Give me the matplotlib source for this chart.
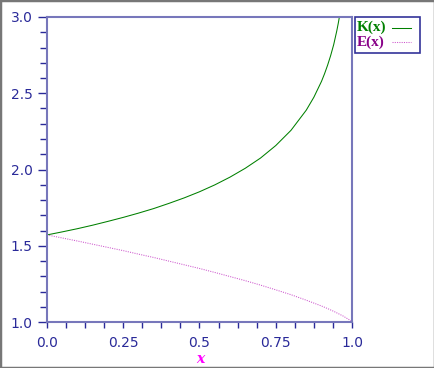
import matplotlib
matplotlib.use("Agg")
import matplotlib.pyplot as plt
from matplotlib.lines import Line2D
from matplotlib.patches import Rectangle

# values
xk = [0.0, 0.05, 0.1, 0.15, 0.2, 0.25, 0.3, 0.35, 0.4, 0.45, 0.5, 0.55, 0.6,
      0.65, 0.7, 0.75, 0.8, 0.85, 0.875, 0.9, 0.91, 0.92, 0.93, 0.94, 0.95,
      0.955, 0.96, 0.965]
K = [1.571, 1.591, 1.612, 1.635, 1.660, 1.686, 1.714, 1.744, 1.778, 1.814,
     1.854, 1.899, 1.950, 2.008, 2.075, 2.157, 2.257, 2.389, 2.474, 2.578,
     2.628, 2.684, 2.747, 2.819, 2.908, 2.959, 3.016, 3.081]
xe = [0.0, 0.05, 0.1, 0.15, 0.2, 0.25, 0.3, 0.35, 0.4, 0.45, 0.5, 0.55, 0.6,
      0.65, 0.7, 0.75, 0.8, 0.85, 0.9, 0.92, 0.94, 0.96, 0.97, 0.98, 0.99,
      0.995, 1.0]
E = [1.571, 1.551, 1.531, 1.510, 1.489, 1.468, 1.445, 1.423, 1.399, 1.375,
     1.351, 1.325, 1.298, 1.271, 1.242, 1.211, 1.179, 1.143, 1.105, 1.088,
     1.070, 1.050, 1.040, 1.028, 1.016, 1.009, 1.0]
xticks = [0.0, 0.25, 0.5, 0.75, 1.0]
xticklabels = ["0.0", "0.25", "0.5", "0.75", "1.0"]
yticks = [1.0, 1.5, 2.0, 2.5, 3.0]
yticklabels = ["1.0", "1.5", "2.0", "2.5", "3.0"]

axcol = "#7777bb"
txtcol = "#2a2a99"

fig = plt.figure(figsize=(4.35, 3.68), dpi=100)
fig.patches.append(Rectangle((0, 0), 1, 1, transform=fig.transFigure,
                             fill=False, edgecolor="#777777", lw=2.5))
ax = fig.add_axes([47 / 435, 1 - 322 / 368, 305 / 435, 305 / 368])

ax.plot(xk, K, color="#008000", lw=0.75)
ax.plot(xe, E, color="#cc55cc", lw=0.75, linestyle=(0, (1, 1.2)))

ax.set_xlim(0, 1)
ax.set_ylim(1, 3)
ax.set_xticks(xticks)
ax.set_xticklabels(xticklabels)
ax.set_yticks(yticks)
ax.set_yticklabels(yticklabels)
ax.set_xticks([i * 0.0625 for i in range(17)], minor=True)
ax.set_yticks([1 + i * 0.1 for i in range(21)], minor=True)
ax.tick_params(which="both", direction="out", color=txtcol, width=1,
               labelcolor=txtcol, labelsize=10)
ax.tick_params(axis="x", which="both", length=4.3, pad=6)
ax.tick_params(axis="y", which="major", length=6.5, pad=4)
ax.tick_params(axis="y", which="minor", length=5)
for s in ax.spines.values():
    s.set_color(axcol)
    s.set_linewidth(1.5)

fig.text(200 / 435, 1 - 359 / 368, "x", color="#ff00ff", fontsize=10,
         family="DejaVu Serif", style="italic", fontweight="bold",
         ha="center", va="center")

# legend box outside the axes
fig.patches.append(Rectangle((355 / 435, 1 - 53 / 368), 65 / 435, 36 / 368,
                             transform=fig.transFigure, fill=False,
                             edgecolor="#333399", lw=1.2))
fig.text(357 / 435, 1 - 27.5 / 368, "K(x)", color="#008000", fontsize=11,
         family="Liberation Serif", fontweight="bold", va="center")
fig.text(357 / 435, 1 - 42.5 / 368, "E(x)", color="#880088", fontsize=11,
         family="Liberation Serif", fontweight="bold", va="center")
fig.lines.append(Line2D([392 / 435, 411 / 435], [1 - 28 / 368] * 2,
                        transform=fig.transFigure, color="#008000", lw=0.75))
fig.lines.append(Line2D([392 / 435, 411 / 435], [1 - 42 / 368] * 2,
                        transform=fig.transFigure, color="#cc55cc", lw=0.75,
                        linestyle=(0, (1, 1.2))))

fig.savefig("out.png", dpi=100, facecolor="white")
